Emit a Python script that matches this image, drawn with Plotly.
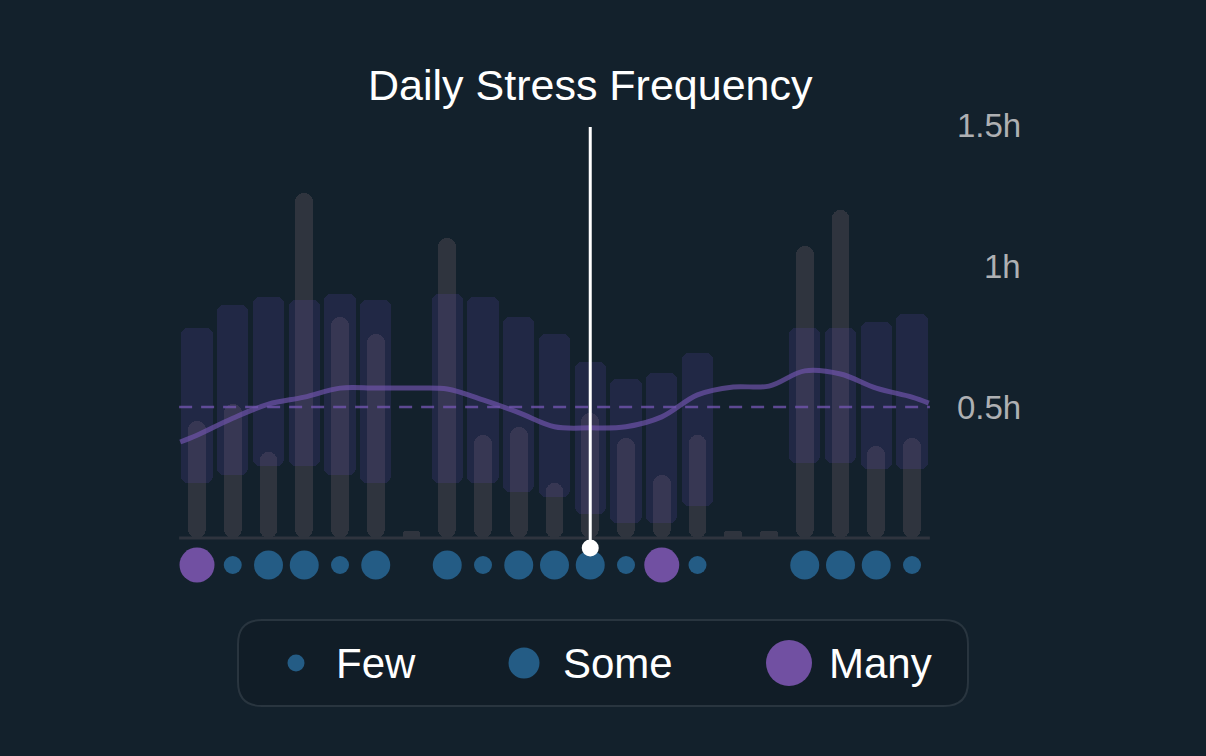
import plotly.graph_objects as go

# ---------------- data ----------------
days = list(range(21))
stress_time = [0.45, 0.51, 0.34, 1.26, 0.82, 0.76, 0.06, 1.10, 0.40, 0.43, 0.23,
               0.48, 0.39, 0.26, 0.40, 0.06, 0.06, 1.07, 1.20, 0.36, 0.39]
range_low = [0.23, 0.26, 0.29, 0.29, 0.26, 0.23, None, 0.23, 0.23, 0.20, 0.18,
             0.12, 0.09, 0.09, 0.15, None, None, 0.30, 0.30, 0.28, 0.28]
range_high = [0.78, 0.86, 0.89, 0.88, 0.90, 0.88, None, 0.90, 0.89, 0.82, 0.76,
              0.66, 0.60, 0.62, 0.69, None, None, 0.78, 0.78, 0.80, 0.83]
trend = [0.40, 0.46, 0.51, 0.535, 0.567, 0.567, 0.567, 0.564, 0.525, 0.48, 0.43,
         0.426, 0.43, 0.465, 0.543, 0.571, 0.574, 0.628, 0.617, 0.567, 0.535]
trend_edges = [0.376, 0.514]
average = 0.5
frequency = ["Many", "Few", "Some", "Some", "Few", "Some", None, "Some", "Few", "Some", "Some",
             "Some", "Few", "Many", "Few", None, None, "Some", "Some", "Some", "Few"]
y_ticks = [0.5, 1.0, 1.5]
y_labels = ["0.5h", "1h", "1.5h"]
legend_levels = ["Few", "Some", "Many"]
highlight_day = 11
title = "Daily Stress Frequency"

# ---------------- style ----------------
W, H = 1206, 756
BG = "#13212c"
GRAY = "#2f343e"
RANGE = "rgba(82,64,155,0.23)"
PURPLE_LINE = "rgba(112,84,172,0.68)"
BLUE = "#245c85"
PURPLE = "#7150a2"
FONT = "Liberation Sans"
dot_size = {"Few": 18, "Some": 29, "Many": 35}
dot_color = {"Few": BLUE, "Some": BLUE, "Many": PURPLE}
legend_size = {"Few": 17, "Some": 31, "Many": 46}

# pixel geometry of the axes (full-bleed plot)
px_per_day = 35.75
x0_px = 197.0
px_per_h = 282.0
y0_px = 548.0
x_range = [-x0_px / px_per_day, (W - x0_px) / px_per_day]
y_range = [-(H - y0_px) / px_per_h, y0_px / px_per_h]
baseline = (y0_px - 538) / px_per_h
dot_row = -(565 - y0_px) / px_per_h


def px_to_paper(x, y):
    return x / W, 1 - y / H


fig = go.Figure()

# gray daily bars
fig.add_trace(go.Bar(
    x=days, y=[v - baseline for v in stress_time], base=baseline,
    width=0.5, marker=dict(color=GRAY, cornerradius=9, line=dict(width=0)),
    hoverinfo="skip", showlegend=False))

# translucent range bars
rx, rb, ry = [], [], []
for d, lo, hi in zip(days, range_low, range_high):
    if lo is not None:
        rx.append(d); rb.append(lo); ry.append(hi - lo)
fig.add_trace(go.Bar(
    x=rx, y=ry, base=rb, width=0.87,
    marker=dict(color=RANGE, cornerradius=7, line=dict(width=0)),
    hoverinfo="skip", showlegend=False))

# smooth trend line
fig.add_trace(go.Scatter(
    x=[days[0] - 0.47] + days + [days[-1] + 0.47],
    y=[trend_edges[0]] + trend + [trend_edges[1]],
    mode="lines", line=dict(color=PURPLE_LINE, width=5, shape="spline", smoothing=1.0),
    hoverinfo="skip", showlegend=False))

# frequency dots
fx = [d for d, f in zip(days, frequency) if f]
ff = [f for f in frequency if f]
fig.add_trace(go.Scatter(
    x=fx, y=[dot_row] * len(fx), mode="markers",
    marker=dict(size=[dot_size[f] for f in ff], color=[dot_color[f] for f in ff],
                line=dict(width=0), opacity=1),
    hoverinfo="skip", showlegend=False))

shapes = []
# baseline
shapes.append(dict(type="line", xref="x", yref="y", x0=days[0] - 0.5, x1=days[-1] + 0.5,
                   y0=baseline, y1=baseline, line=dict(color=GRAY, width=3), layer="above"))
# average dashed line
shapes.append(dict(type="line", xref="x", yref="y", x0=days[0] - 0.5, x1=days[-1] + 0.5,
                   y0=average, y1=average,
                   line=dict(color="rgba(112,84,172,0.8)", width=2.5, dash="13px,9px"),
                   layer="above"))
# highlight line
shapes.append(dict(type="line", xref="x", yref="y", x0=highlight_day, x1=highlight_day,
                   y0=0, y1=(y0_px - 127) / px_per_h,
                   line=dict(color="white", width=3), layer="above"))

fig.add_trace(go.Scatter(
    x=[highlight_day], y=[0], mode="markers",
    marker=dict(size=17, color="white", line=dict(width=0)),
    hoverinfo="skip", showlegend=False))

# legend box (rounded rect)
lx0, ly0, lx1, ly1, rr = 238, 620, 968, 706, 24
def P(x, y):
    px, py = px_to_paper(x, y)
    return f"{px:.5f},{py:.5f}"
path = (f"M {P(lx0 + rr, ly0)} L {P(lx1 - rr, ly0)} Q {P(lx1, ly0)} {P(lx1, ly0 + rr)} "
        f"L {P(lx1, ly1 - rr)} Q {P(lx1, ly1)} {P(lx1 - rr, ly1)} "
        f"L {P(lx0 + rr, ly1)} Q {P(lx0, ly1)} {P(lx0, ly1 - rr)} "
        f"L {P(lx0, ly0 + rr)} Q {P(lx0, ly0)} {P(lx0 + rr, ly0)} Z")
shapes.append(dict(type="path", xref="paper", yref="paper", path=path,
                   fillcolor="rgba(0,0,0,0.1)", line=dict(color="#29353f", width=2),
                   layer="below"))

annotations = []
legend_dot_x = [296, 524, 789]
legend_text_x = [334, 561, 827]
legend_y = 663
for lev, dx, tx in zip(legend_levels, legend_dot_x, legend_text_x):
    cx, cy = px_to_paper(dx, legend_y)
    r = legend_size[lev] / 2
    shapes.append(dict(type="circle", xref="paper", yref="paper",
                       xsizemode="pixel", ysizemode="pixel", xanchor=cx, yanchor=cy,
                       x0=-r, x1=r, y0=-r, y1=r,
                       fillcolor=dot_color[lev], line=dict(width=0)))
    ax, ay = px_to_paper(tx, legend_y)
    annotations.append(dict(text=lev, xref="paper", yref="paper", x=ax, y=ay,
                            xanchor="left", yanchor="middle", showarrow=False,
                            font=dict(family=FONT, size=42, color="white")))

# title
annotations.append(dict(text=title, xref="x", yref="paper", x=highlight_day,
                        y=px_to_paper(0, 85)[1], xanchor="center", yanchor="middle",
                        showarrow=False, font=dict(family=FONT, size=43, color="white")))

# y tick labels
for v, lab in zip(y_ticks, y_labels):
    annotations.append(dict(text=lab, xref="paper", yref="y", x=1023 / W, y=v,
                            xanchor="right", yanchor="middle", showarrow=False,
                            font=dict(family=FONT, size=33, color="#aeb0b3")))

fig.update_layout(
    width=W, height=H, margin=dict(l=0, r=0, t=0, b=0, pad=0),
    paper_bgcolor=BG, plot_bgcolor=BG,
    barmode="overlay", bargap=0,
    xaxis=dict(range=x_range, visible=False, fixedrange=True),
    yaxis=dict(range=y_range, visible=False, fixedrange=True),
    shapes=shapes, annotations=annotations, showlegend=False,
    font=dict(family=FONT),
)

fig.write_html("out.html", config={"displayModeBar": False},
               post_script="document.body.style.margin='0';document.body.style.background='%s';" % BG)
